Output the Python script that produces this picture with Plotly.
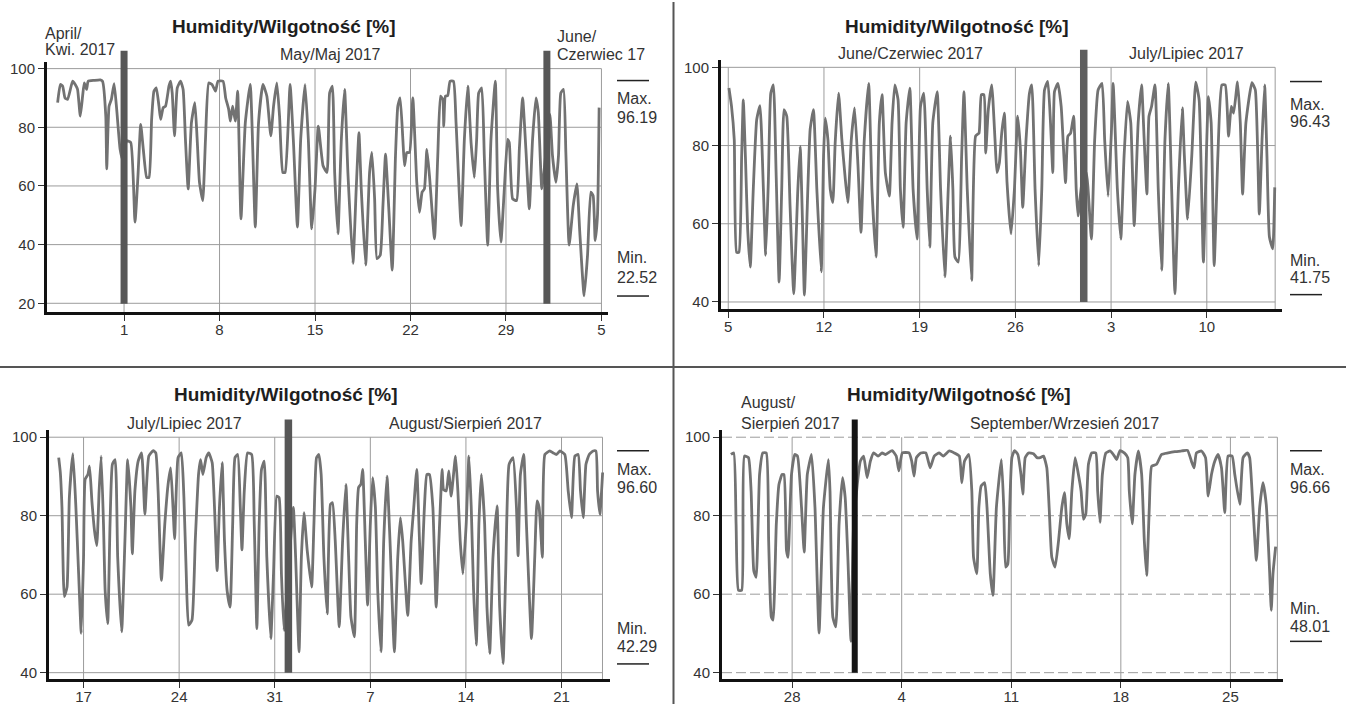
import pandas as pd
import plotly.graph_objects as go

W, H = 1346, 706
FONT = "Liberation Sans"

# ---------------- data (day offset from panel start date, humidity %) ----------------
p1_start = "2017-05-01"
p1_data = [(-4.87, 88.4), (-4.67, 94.6), (-4.50, 94.0), (-4.33, 90.0), (-4.14, 89.5), (-3.77, 95.7), (-3.58, 94.6),
           (-3.41, 92.9), (-3.21, 83.8), (-3.04, 90.6), (-2.92, 95.1), (-2.75, 92.9), (-2.63, 95.7), (-2.19, 96.0),
           (-1.75, 96.19), (-1.58, 95.7), (-1.34, 83.8), (-1.27, 65.8), (-1.10, 87.2), (-0.93, 89.5), (-0.73, 94.9),
           (-0.54, 86.1), (-0.29, 72.5), (-0.12, 69.1), (0.19, 75.4), (0.49, 74.8), (0.80, 47.7), (1.02, 63.5),
           (1.22, 81.0), (1.41, 72.5), (1.66, 62.9), (1.83, 62.9), (2.02, 82.7), (2.19, 92.3), (2.36, 93.4),
           (2.56, 87.2), (2.68, 82.7), (2.87, 86.7), (3.04, 87.2), (3.29, 94.0), (3.41, 95.7), (3.53, 91.7),
           (3.70, 77.1), (3.90, 93.4), (4.14, 95.7), (4.33, 92.9), (4.50, 75.9), (4.70, 59.0), (4.94, 81.6),
           (5.19, 88.4), (5.36, 75.9), (5.53, 61.2), (5.77, 55.0), (5.97, 75.9), (6.21, 95.1), (6.45, 94.6),
           (6.70, 92.3), (6.89, 95.7), (7.26, 95.7), (7.45, 90.0), (7.67, 86.1), (7.79, 82.1), (7.96, 87.2),
           (8.16, 82.1), (8.33, 92.3), (8.57, 48.8), (8.89, 81.6), (9.25, 94.6), (9.62, 46.0), (9.86, 81.6),
           (10.18, 94.6), (10.47, 90.6), (10.76, 77.1), (10.96, 87.2), (11.20, 95.1), (11.40, 83.8), (11.64, 64.6),
           (11.81, 64.6), (12.17, 94.6), (12.42, 74.8), (12.71, 46.0), (12.95, 75.9), (13.27, 94.6), (13.51, 75.9),
           (13.76, 45.4), (14.00, 59.0), (14.24, 80.4), (14.59, 66.9), (14.88, 64.6), (15.07, 91.7), (15.27, 94.0),
           (15.44, 64.6), (15.68, 43.7), (15.93, 75.9), (16.17, 92.9), (16.41, 64.6), (16.78, 33.6), (17.02, 59.0),
           (17.22, 78.2), (17.39, 59.0), (17.71, 33.0), (18.00, 64.6), (18.17, 71.4), (18.37, 55.6), (18.54, 35.2),
           (18.78, 36.4), (18.98, 53.3), (19.17, 70.8), (19.41, 52.2), (19.66, 31.3), (19.90, 70.3), (20.07, 87.2),
           (20.24, 90.0), (20.44, 75.9), (20.56, 66.9), (20.73, 71.4), (20.93, 71.4), (21.17, 90.0), (21.46, 61.2),
           (21.66, 51.0), (21.85, 57.9), (22.02, 59.0), (22.20, 72.5), (22.39, 63.5), (22.76, 42.0), (23.00, 70.3),
           (23.20, 90.6), (23.37, 89.5), (23.44, 80.4), (23.56, 90.6), (23.73, 90.8), (23.90, 95.7), (24.15, 95.7),
           (24.34, 81.6), (24.71, 46.5), (24.95, 75.9), (25.20, 94.0), (25.44, 74.8), (25.68, 62.9), (25.85, 75.9),
           (26.00, 91.7), (26.22, 93.4), (26.41, 70.3), (26.66, 39.8), (26.90, 75.9), (27.22, 95.7), (27.39, 59.0),
           (27.63, 40.9), (27.88, 59.0), (28.12, 75.9), (28.24, 74.8), (28.49, 55.6), (28.78, 55.0), (28.98, 72.5),
           (29.22, 90.0), (29.46, 72.5), (29.71, 52.2), (29.95, 75.9), (30.20, 90.0), (30.37, 85.0), (30.63, 59.0),
           (30.93, 71.4), (31.22, 84.4), (31.41, 70.3), (31.66, 61.2), (31.85, 70.3), (32.02, 91.7), (32.22, 92.9),
           (32.39, 71.4), (32.63, 39.8), (32.93, 53.3), (33.20, 60.7), (33.41, 44.3), (33.73, 22.52), (33.98, 36.4),
           (34.22, 57.9), (34.39, 56.7), (34.54, 41.4), (34.71, 50.0), (34.83, 86.7)]

p2_start = "2017-06-05"
p2_data = [(0.05, 94.7), (0.24, 90.0), (0.44, 81.5), (0.61, 52.7), (0.78, 52.7), (0.98, 77.3), (1.10, 91.7),
           (1.27, 75.6), (1.42, 58.7), (1.61, 48.9), (1.83, 68.8), (2.08, 86.6), (2.32, 90.2), (2.57, 68.8),
           (2.74, 51.9), (2.93, 70.5), (3.11, 93.4), (3.30, 95.5), (3.50, 73.1), (3.72, 45.1), (3.91, 68.8),
           (4.08, 89.2), (4.28, 87.5), (4.52, 64.6), (4.79, 42.1), (5.09, 68.8), (5.26, 79.8), (5.43, 60.4),
           (5.57, 41.75), (5.82, 68.8), (5.99, 84.1), (6.23, 89.2), (6.48, 68.8), (6.80, 47.7), (6.97, 77.3),
           (7.09, 87.0), (7.29, 81.5), (7.46, 68.8), (7.65, 65.4), (7.82, 80.7), (8.07, 93.4), (8.31, 81.5),
           (8.56, 71.4), (8.75, 65.4), (9.00, 81.5), (9.24, 89.6), (9.49, 74.8), (9.71, 57.8), (9.95, 81.5),
           (10.27, 95.9), (10.51, 68.8), (10.81, 51.5), (11.05, 85.8), (11.25, 93.0), (11.49, 73.1), (11.78, 67.1),
           (11.98, 85.8), (12.18, 95.5), (12.42, 91.7), (12.59, 68.8), (12.79, 59.1), (13.01, 85.8), (13.28, 94.7),
           (13.52, 68.8), (13.81, 56.1), (14.06, 90.0), (14.30, 93.4), (14.55, 68.8), (14.74, 54.0), (14.96, 85.8),
           (15.28, 93.8), (15.53, 68.8), (15.84, 46.4), (16.09, 68.8), (16.26, 82.4), (16.43, 68.8), (16.58, 51.5),
           (16.82, 50.2), (17.07, 77.3), (17.24, 93.8), (17.48, 68.8), (17.80, 45.5), (18.09, 82.4), (18.34, 83.2),
           (18.51, 93.0), (18.70, 93.0), (18.83, 78.1), (19.02, 89.2), (19.27, 95.5), (19.51, 81.5), (19.65, 73.1),
           (19.83, 75.6), (20.00, 83.2), (20.19, 88.3), (20.39, 70.5), (20.68, 57.4), (20.93, 68.8), (21.17, 87.5),
           (21.37, 79.0), (21.54, 64.2), (21.78, 81.5), (22.03, 93.4), (22.20, 95.5), (22.44, 68.8), (22.71, 49.3),
           (22.93, 68.8), (23.13, 94.2), (23.37, 96.43), (23.57, 85.8), (23.74, 73.1), (23.86, 93.8), (24.11, 95.9),
           (24.35, 90.0), (24.67, 70.5), (24.84, 82.4), (25.04, 83.2), (25.26, 87.5), (25.45, 68.8), (25.58, 62.0),
           (25.87, 70.5), (26.19, 73.1), (26.56, 56.1), (26.80, 81.5), (27.05, 94.2), (27.34, 95.9), (27.53, 81.5),
           (27.78, 67.1), (28.02, 83.2), (28.15, 95.9), (28.46, 68.8), (28.71, 56.1), (28.95, 77.3), (29.20, 91.3),
           (29.44, 85.8), (29.69, 59.5), (29.98, 85.8), (30.23, 95.5), (30.42, 81.5), (30.62, 67.6), (30.77, 87.5),
           (30.96, 90.0), (31.21, 95.5), (31.45, 68.8), (31.70, 48.1), (31.94, 81.5), (32.18, 95.9), (32.43, 68.8),
           (32.67, 42.1), (32.92, 68.8), (33.21, 89.6), (33.36, 77.3), (33.60, 61.2), (33.90, 77.3), (34.19, 96.2),
           (34.44, 91.7), (34.75, 50.2), (35.00, 81.5), (35.12, 92.5), (35.32, 85.8), (35.54, 49.3), (35.81, 77.3),
           (36.10, 95.5), (36.35, 95.5), (36.59, 82.4), (36.79, 90.0), (36.96, 88.3), (37.25, 96.3), (37.45, 85.8),
           (37.62, 67.6), (37.86, 85.8), (38.30, 96.1), (38.55, 94.2), (38.84, 62.5), (39.04, 81.5), (39.23, 95.5),
           (39.40, 77.3), (39.58, 56.6), (39.82, 53.6), (39.97, 69.3)]

p3_start = "2017-07-17"
p3_data = [(-1.82, 94.8), (-1.70, 91.0), (-1.58, 82.1), (-1.41, 59.4), (-1.21, 61.8), (-1.04, 84.6), (-0.78, 95.8),
           (-0.56, 82.1), (-0.36, 65.2), (-0.17, 50.0), (0.00, 69.4), (0.12, 89.3), (0.32, 90.5), (0.44, 92.6),
           (0.61, 83.8), (0.80, 76.2), (0.97, 72.4), (1.14, 86.3), (1.29, 95.2), (1.46, 77.9), (1.58, 61.0),
           (1.77, 52.5), (1.94, 77.9), (2.11, 93.1), (2.31, 94.3), (2.50, 69.4), (2.79, 50.4), (3.03, 73.6),
           (3.23, 94.3), (3.47, 82.1), (3.57, 70.3), (3.76, 86.3), (4.00, 93.9), (4.25, 96.0), (4.49, 80.4),
           (4.78, 95.2), (5.10, 96.6), (5.29, 96.0), (5.46, 86.3), (5.70, 63.5), (5.95, 77.9), (6.19, 88.0),
           (6.38, 92.2), (6.55, 82.1), (6.67, 74.1), (6.92, 94.8), (7.16, 96.0), (7.35, 84.6), (7.52, 65.2),
           (7.69, 52.1), (7.94, 53.4), (8.18, 73.6), (8.42, 90.5), (8.57, 94.3), (8.74, 90.5), (8.98, 94.8),
           (9.17, 96.0), (9.42, 93.5), (9.59, 82.1), (9.78, 66.0), (9.95, 82.1), (10.15, 93.5), (10.32, 73.6),
           (10.51, 61.0), (10.73, 56.7), (10.92, 77.9), (11.09, 94.8), (11.29, 95.6), (11.48, 82.1), (11.60, 71.3),
           (11.77, 86.3), (12.01, 96.0), (12.31, 95.6), (12.50, 77.9), (12.69, 51.2), (12.86, 77.9), (13.03, 91.8),
           (13.23, 93.9), (13.42, 69.4), (13.71, 48.7), (13.91, 65.2), (14.15, 85.0), (14.32, 84.6), (14.49, 65.2),
           (14.68, 50.8), (14.93, 62.0), (15.36, 82.1), (15.53, 69.4), (15.78, 45.3), (15.95, 69.4), (16.14, 80.8),
           (16.38, 71.1), (16.70, 61.8), (16.87, 77.9), (17.06, 94.8), (17.23, 95.6), (17.40, 90.5), (17.60, 69.4),
           (17.84, 55.0), (18.08, 82.9), (18.23, 83.3), (18.43, 73.6), (18.72, 51.7), (18.97, 73.6), (19.21, 88.0),
           (19.41, 69.4), (19.58, 54.2), (19.83, 49.1), (20.00, 77.9), (20.14, 87.2), (20.31, 88.0), (20.44, 91.8),
           (20.63, 73.6), (20.80, 57.2), (21.00, 77.9), (21.17, 89.7), (21.37, 82.1), (21.54, 61.0), (21.78, 45.3),
           (21.98, 73.6), (22.22, 90.1), (22.44, 73.6), (22.76, 45.3), (23.01, 69.4), (23.20, 79.5), (23.37, 73.6),
           (23.74, 54.6), (23.99, 73.6), (24.18, 82.1), (24.40, 91.8), (24.60, 73.6), (24.72, 62.7), (24.96, 82.1),
           (25.14, 90.5), (25.33, 90.5), (25.58, 82.1), (25.82, 56.7), (26.02, 73.6), (26.26, 91.8), (26.36, 86.7),
           (26.56, 86.3), (26.75, 91.4), (26.92, 85.0), (27.24, 95.2), (27.41, 86.3), (27.58, 73.6), (27.78, 65.2),
           (28.02, 77.9), (28.22, 95.2), (28.39, 82.1), (28.56, 61.0), (28.76, 47.0), (28.95, 77.9), (29.13, 90.5),
           (29.37, 77.9), (29.54, 56.7), (29.74, 44.9), (29.98, 69.4), (30.28, 82.5), (30.47, 56.7), (30.72, 42.29),
           (30.91, 65.2), (31.16, 93.1), (31.45, 94.8), (31.70, 82.1), (31.82, 69.8), (31.99, 90.5), (32.23, 95.6),
           (32.43, 77.9), (32.80, 48.7), (33.04, 69.4), (33.21, 83.8), (33.36, 82.1), (33.60, 69.4), (33.78, 95.6),
           (34.14, 96.5), (34.39, 96.0), (34.63, 95.6), (34.88, 96.5), (35.24, 95.6), (35.49, 86.3), (35.73, 79.5),
           (35.98, 95.2), (36.22, 95.6), (36.39, 86.3), (36.59, 79.5), (36.79, 93.1), (37.03, 95.6), (37.32, 96.5),
           (37.52, 96.5), (37.64, 86.3), (37.81, 80.4), (38.01, 91.0)]

p4_start = "2017-08-28"
p4_data = [(-3.91, 95.6), (-3.73, 96.0), (-3.58, 77.9), (-3.43, 61.0), (-3.22, 61.0), (-3.05, 95.2), (-2.79, 94.8),
           (-2.62, 86.3), (-2.45, 66.0), (-2.30, 64.3), (-2.08, 90.5), (-1.87, 96.0), (-1.65, 96.0), (-1.50, 73.6),
           (-1.33, 54.2), (-1.22, 53.4), (-1.01, 77.9), (-0.84, 88.0), (-0.64, 90.5), (-0.52, 90.5), (-0.36, 71.1),
           (-0.26, 69.4), (-0.04, 90.5), (0.17, 95.6), (0.34, 95.2), (0.60, 82.1), (0.77, 70.7), (0.97, 90.5),
           (1.24, 95.6), (1.46, 82.1), (1.72, 50.1), (2.00, 82.1), (2.32, 94.3), (2.42, 86.3), (2.60, 54.2),
           (2.79, 51.7), (3.00, 77.9), (3.22, 89.7), (3.39, 84.6), (3.56, 69.4), (3.76, 48.01), (3.93, 77.9),
           (4.36, 93.9), (4.57, 95.2), (4.79, 89.7), (5.00, 93.9), (5.21, 96.0), (5.49, 95.2), (5.75, 96.0),
           (5.97, 95.6), (6.39, 96.6), (6.65, 95.2), (6.82, 91.4), (7.04, 96.0), (7.47, 96.0), (7.64, 93.9),
           (7.79, 90.1), (7.94, 94.8), (8.22, 96.0), (8.54, 96.0), (8.82, 92.2), (9.08, 95.2), (9.40, 96.0),
           (9.66, 95.2), (10.04, 96.5), (10.36, 96.0), (10.68, 95.2), (10.84, 88.4), (11.01, 93.9), (11.29, 95.6),
           (11.48, 86.3), (11.59, 69.4), (11.80, 65.2), (11.93, 82.1), (12.08, 87.6), (12.30, 88.4), (12.45, 82.1),
           (12.66, 65.2), (12.83, 59.7), (13.05, 82.1), (13.37, 94.3), (13.52, 82.1), (13.64, 66.9), (13.78, 67.7),
           (13.90, 82.1), (14.04, 94.8), (14.21, 96.6), (14.42, 95.6), (14.62, 90.5), (14.74, 85.5), (14.89, 94.8),
           (15.10, 96.0), (15.42, 95.8), (15.64, 94.8), (15.85, 94.8), (16.06, 95.2), (16.27, 92.2), (16.42, 82.1),
           (16.59, 69.4), (16.80, 66.9), (17.02, 73.6), (17.23, 82.1), (17.40, 85.9), (17.55, 77.9), (17.70, 74.1),
           (17.87, 86.3), (18.08, 94.8), (18.29, 90.5), (18.46, 86.3), (18.61, 79.1), (18.76, 80.4), (18.93, 93.1),
           (19.14, 96.0), (19.40, 96.0), (19.52, 86.3), (19.67, 78.3), (19.82, 90.5), (20.05, 96.0), (20.31, 96.5),
           (20.59, 95.2), (20.73, 94.3), (20.95, 96.6), (21.22, 96.0), (21.44, 94.8), (21.54, 86.3), (21.73, 77.9),
           (21.90, 90.5), (22.12, 96.5), (22.33, 90.5), (22.50, 73.6), (22.65, 64.8), (22.82, 82.1), (22.97, 92.6),
           (23.28, 93.1), (23.60, 95.6), (24.03, 96.0), (24.45, 96.3), (24.88, 96.5), (25.26, 96.66), (25.51, 93.9),
           (25.68, 92.2), (25.83, 96.0), (26.15, 96.5), (26.41, 94.8), (26.58, 85.0), (26.79, 90.5), (27.00, 93.9),
           (27.21, 95.6), (27.43, 92.2), (27.64, 80.8), (27.85, 95.2), (28.11, 95.2), (28.28, 90.5), (28.60, 82.9),
           (28.81, 94.8), (29.08, 96.0), (29.23, 94.8), (29.44, 82.1), (29.66, 68.6), (29.87, 82.1), (30.08, 88.4),
           (30.29, 82.9), (30.51, 65.2), (30.61, 55.9), (30.72, 65.2), (30.89, 72.1)]

# ticks (days from panel start), month boundaries, y ticks
p1_tick_days = [0, 7, 14, 21, 28, 35]
p2_tick_days = [0, 7, 14, 21, 28, 35]
p3_tick_days = [0, 7, 14, 21, 28, 35]
p4_tick_days = [0, 7, 14, 21, 28]
p1_months = ["2017-05-01", "2017-06-01"]
p2_months = ["2017-07-01"]
p3_months = ["2017-08-01"]
p4_months = ["2017-09-01"]
p1_yticks = [20, 40, 60, 80, 100]
p234_yticks = [40, 60, 80, 100]

TITLE = "Humidity/Wilgotność [%]"

# ---------------- layout description (pixel geometry) ----------------
panels = [
    dict(start=p1_start, data=p1_data, ticks=p1_tick_days, months=p1_months, yticks=p1_yticks,
         xpx=(47, 608), ypx=(60, 312), xr=(-5.65, 35.48), yr=(16.95, 102.37), box_end=35,
         bar_top=49, bar_bot=303.5, bar_w=7, bar_col="#575757", dash=None,
         title=(284, 25), mx=617, mm=(79, 96.7, 116, 256.7, 276.7, 295.7)),
    dict(start=p2_start, data=p2_data, ticks=p2_tick_days, months=p2_months, yticks=p234_yticks,
         xpx=(721, 1282), ypx=(58, 309), xr=(-0.53, 40.5), yr=(38.14, 101.96), box_end=40,
         bar_top=48, bar_bot=301.7, bar_w=7.5, bar_col="#5e5e5e", dash=None,
         title=(957, 25), mx=1290, mm=(80, 102.7, 120, 260, 276.7, 294.3)),
    dict(start=p3_start, data=p3_data, ticks=p3_tick_days, months=p3_months, yticks=p234_yticks,
         xpx=(49, 610), ypx=(430, 681), xr=(-2.53, 38.55), yr=(38.35, 101.95), box_end=38,
         bar_top=420, bar_bot=674.5, bar_w=7.5, bar_col="#575757", dash=None,
         title=(286, 395), mx=617, mm=(451.3, 470.3, 488, 629.7, 648, 665.7)),
    dict(start=p4_start, data=p4_data, ticks=p4_tick_days, months=p4_months, yticks=p234_yticks,
         xpx=(722, 1283), ypx=(430, 681), xr=(-4.48, 31.36), yr=(38.35, 101.95), box_end=31,
         bar_top=420, bar_bot=674.5, bar_w=6, bar_col="#151515", dash="10px,4px",
         title=(959, 395), mx=1290, mm=(451.3, 470.3, 488, 609.7, 628, 643)),
]

month_labels = [
    ("April/", 45, 31.7, "left"), ("Kwi. 2017", 45, 47.7, "left"),
    ("May/Maj 2017", 330, 53.3, "center"),
    ("June/", 557, 35, "left"), ("Czerwiec 17", 557, 53.3, "left"),
    ("June/Czerwiec 2017", 910, 51.7, "center"), ("July/Lipiec 2017", 1186, 51.7, "center"),
    ("July/Lipiec 2017", 184.5, 423.7, "center"), ("August/Sierpień 2017", 465, 423.7, "center"),
    ("August/", 741, 403, "left"), ("Sierpień 2017", 741, 423.7, "left"),
    ("September/Wrzesień 2017", 1064, 423.7, "center"),
]


def pxx(X):
    return X / W


def pxy(Y):
    return 1 - Y / H


def day(start, d):
    return pd.Timestamp(start) + pd.to_timedelta(d, unit="D")


fig = go.Figure()
shapes = []
annotations = []
GRID = "#9c9c9c"

for i, p in enumerate(panels, start=1):
    xa = "x" if i == 1 else f"x{i}"
    ya = "y" if i == 1 else f"y{i}"
    days = [d for d, _ in p["data"]]
    vals = [v for _, v in p["data"]]
    xs = [day(p["start"], d) for d in days]
    fig.add_trace(go.Scatter(x=xs, y=vals, mode="lines", xaxis=xa, yaxis=ya,
                             line=dict(color="#727272", width=2.8, shape="spline", smoothing=0.45),
                             showlegend=False, hoverinfo="x+y"))
    tickvals = [day(p["start"], d) for d in p["ticks"]]
    ticktext = [str(t.day) for t in tickvals]
    axis_font = dict(family=FONT, size=15, color="#333")
    fig.layout[("xaxis" if i == 1 else f"xaxis{i}")] = dict(
        domain=[pxx(p["xpx"][0]), pxx(p["xpx"][1])], anchor=ya, type="date",
        range=[day(p["start"], p["xr"][0]), day(p["start"], p["xr"][1])],
        tickmode="array", tickvals=tickvals, ticktext=ticktext,
        showgrid=False, zeroline=False, showline=True, linewidth=3, linecolor="#111",
        ticks="outside", ticklen=6, tickwidth=1, tickcolor="#333", tickfont=axis_font,
        ticklabelstandoff=-4)
    fig.layout[("yaxis" if i == 1 else f"yaxis{i}")] = dict(
        domain=[pxy(p["ypx"][1]), pxy(p["ypx"][0])], anchor=xa,
        range=list(p["yr"]), tickmode="array", tickvals=p["yticks"],
        ticktext=[str(v) for v in p["yticks"]],
        showgrid=False, zeroline=False, showline=True, linewidth=3, linecolor="#111",
        ticks="outside", ticklen=6, tickwidth=1, tickcolor="#333", tickfont=axis_font)

    x_start = day(p["start"], p["xr"][0])
    x_end = day(p["start"], p["box_end"])
    # horizontal grid lines
    for v in p["yticks"]:
        shapes.append(dict(type="line", xref=xa, yref=ya, x0=x_start, x1=x_end, y0=v, y1=v,
                           layer="below", line=dict(color=GRID, width=1, dash=p["dash"] or "solid")))
    # vertical grid lines at ticks and box end
    for d in sorted(set(p["ticks"] + [p["box_end"]])):
        shapes.append(dict(type="line", xref=xa, yref=ya, x0=day(p["start"], d), x1=day(p["start"], d),
                           y0=p["yr"][0], y1=100, layer="below", line=dict(color=GRID, width=1)))
    # month boundary bars
    for m in p["months"]:
        shapes.append(dict(type="line", xref=xa, yref="paper", x0=m, x1=m,
                           y0=pxy(p["bar_bot"]), y1=pxy(p["bar_top"]), layer="above",
                           line=dict(color=p["bar_col"], width=p["bar_w"])))
    # title
    annotations.append(dict(text=f"<b>{TITLE}</b>", x=pxx(p["title"][0]), y=pxy(p["title"][1]),
                            xref="paper", yref="paper", xanchor="center", yanchor="middle",
                            showarrow=False, font=dict(family=FONT, size=19, color="#1e1e1e")))
    # max / min block
    mx = p["mx"]
    l_top, y_max, y_maxv, y_min, y_minv, l_bot = p["mm"]
    for ly in (l_top, l_bot):
        shapes.append(dict(type="line", xref="paper", yref="paper", x0=pxx(mx), x1=pxx(mx + 32),
                           y0=pxy(ly), y1=pxy(ly), line=dict(color="#222", width=1.5)))
    for txt, yy in (("Max.", y_max), (f"{max(vals):.2f}", y_maxv),
                    ("Min.", y_min), (f"{min(vals):.2f}", y_minv)):
        annotations.append(dict(text=txt, x=pxx(mx - 2), y=pxy(yy), xref="paper", yref="paper",
                                xanchor="left", yanchor="middle", showarrow=False,
                                font=dict(family=FONT, size=16, color="#333")))

for txt, X, Y, anc in month_labels:
    annotations.append(dict(text=txt, x=pxx(X - (2 if anc == "left" else 0)), y=pxy(Y),
                            xref="paper", yref="paper", xanchor=anc, yanchor="middle",
                            showarrow=False, font=dict(family=FONT, size=16, color="#333")))

# panel dividers
shapes.append(dict(type="line", xref="paper", yref="paper", x0=pxx(673.5), x1=pxx(673.5), y0=0, y1=1,
                   line=dict(color="#555", width=2)))
shapes.append(dict(type="line", xref="paper", yref="paper", x0=0, x1=1, y0=pxy(367), y1=pxy(367),
                   line=dict(color="#555", width=2)))

fig.update_layout(width=W, height=H, margin=dict(l=0, r=0, t=0, b=0),
                  paper_bgcolor="white", plot_bgcolor="white",
                  shapes=shapes, annotations=annotations, showlegend=False,
                  font=dict(family=FONT, color="#333"))

fig.write_html("out.html", include_plotlyjs=True, config={"displayModeBar": False})
